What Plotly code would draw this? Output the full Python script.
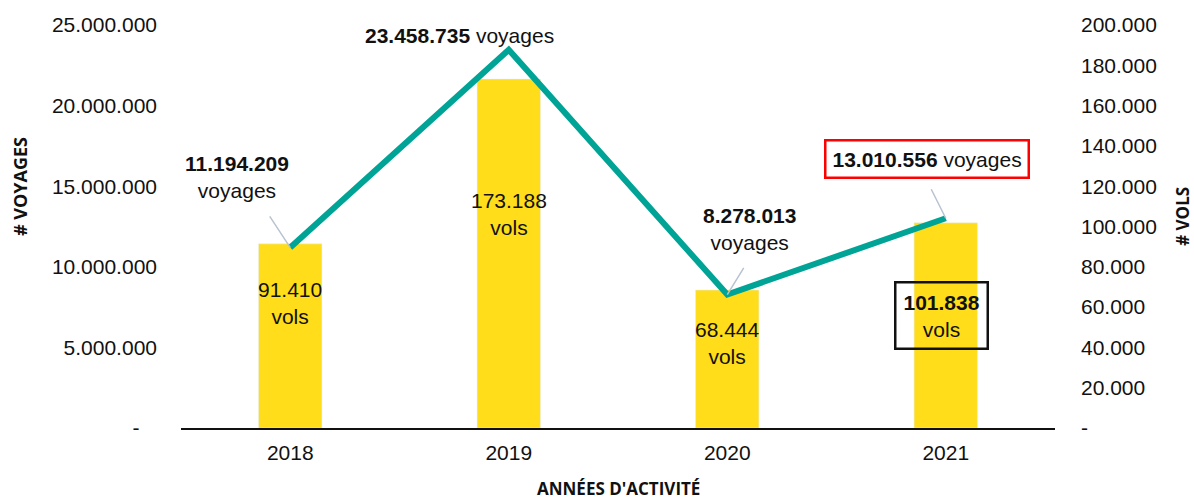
import plotly.graph_objects as go

years = ["2018", "2019", "2020", "2021"]
voyages = [11194209, 23458735, 8278013, 13010556]
vols = [91410, 173188, 68444, 101838]
voyages_labels = ["11.194.209", "23.458.735", "8.278.013", "13.010.556"]
vols_labels = ["91.410", "173.188", "68.444", "101.838"]

left_tickvals = [0, 5000000, 10000000, 15000000, 20000000, 25000000]
left_ticktext = ["-\u00a0\u00a0\u00a0", "5.000.000", "10.000.000", "15.000.000", "20.000.000", "25.000.000"]
right_tickvals = [0, 20000, 40000, 60000, 80000, 100000, 120000, 140000, 160000, 180000, 200000]
right_ticktext = ["-", "20.000", "40.000", "60.000", "80.000", "100.000", "120.000",
                  "140.000", "160.000", "180.000", "200.000"]

FONT = "Liberation Sans"
TITLE_FONT = "Open Sans"
YELLOW = "#FFDD1A"
TEAL = "#00A496"
LEADER = "#B7C3D0"
FS = 21

fig = go.Figure()
# bars on base axis "y" (right side, vols); line on overlaying "y2" (left side, voyages) so it is drawn on top
fig.add_trace(go.Bar(x=years, y=vols, yaxis="y", marker_color=YELLOW, width=0.29,
                     hoverinfo="skip"))
fig.add_trace(go.Scatter(x=years, y=voyages, yaxis="y2", mode="lines",
                         line=dict(color=TEAL, width=6), hoverinfo="skip"))

annotations = []
# bar labels (inside bars); x given as category index
bar_shift = [-59, -135, -53, -93]
for i, (v, lab) in enumerate(zip(vols, vols_labels)):
    if i == 3:
        annotations.append(dict(x=i, y=v, xref="x", yref="y", text=f"<b>{lab}</b><br>vols",
                                showarrow=False, yshift=bar_shift[i], xshift=-4,
                                font=dict(family=FONT, size=FS, color="#111"),
                                bordercolor="#111", borderwidth=2.5, borderpad=7))
    else:
        annotations.append(dict(x=i, y=v, xref="x", yref="y", text=f"{lab}<br>vols",
                                showarrow=False, yshift=bar_shift[i],
                                font=dict(family=FONT, size=FS, color="#111")))

# line labels
line_texts = [f"<b>{voyages_labels[0]}</b><br>voyages",
              f"<b>{voyages_labels[1]}</b> voyages",
              f"<b>{voyages_labels[2]}</b><br>voyages",
              f"<b>{voyages_labels[3]}</b> voyages"]
line_shift = [(-53, 71), (-49, 14), (22, 66), (-19, 59)]
for i, v in enumerate(voyages):
    extra = {}
    if i == 3:
        extra = dict(bordercolor="#FF0000", borderwidth=2.5, borderpad=6, bgcolor="white")
    annotations.append(dict(x=i, y=v, xref="x", yref="y2", text=line_texts[i], showarrow=False,
                            xshift=line_shift[i][0], yshift=line_shift[i][1],
                            font=dict(family=FONT, size=FS, color="#111"), **extra))

# leader lines
leaders = [(-25, -38), None, (21, -34), (-19, -38)]
for i, v in enumerate(voyages):
    if leaders[i] is None:
        continue
    annotations.append(dict(x=i, y=v, xref="x", yref="y2", text=" ", showarrow=True,
                            arrowhead=0, arrowwidth=1.5, arrowcolor=LEADER,
                            ax=leaders[i][0], ay=leaders[i][1], standoff=0, startstandoff=0))

# axis titles
annotations.append(dict(x=0, y=0.598, xref="paper", yref="paper", xshift=-161,
                        xanchor="center", yanchor="middle",
                        text="<b># VOYAGES</b>", textangle=-90, showarrow=False,
                        font=dict(family=TITLE_FONT, size=18, color="#111")))
annotations.append(dict(x=1, y=0.524, xref="paper", yref="paper", xshift=128,
                        xanchor="center", yanchor="middle",
                        text="<b># VOLS</b>", textangle=-90, showarrow=False,
                        font=dict(family=TITLE_FONT, size=17, color="#111")))
annotations.append(dict(x=0.5, y=0, xref="paper", yref="paper", yshift=-60,
                        xanchor="center", yanchor="middle",
                        text="<b>ANNÉES D'ACTIVITÉ</b>", showarrow=False,
                        font=dict(family=TITLE_FONT, size=17, color="#111")))

fig.update_layout(
    width=1194, height=500,
    margin=dict(l=181, r=139, t=25, b=72),
    paper_bgcolor="white", plot_bgcolor="white",
    showlegend=False,
    font=dict(family=FONT, size=FS, color="#111"),
    xaxis=dict(type="category", range=[-0.5, 3.5], showline=True, linecolor="#111",
               linewidth=2, ticks="", showgrid=False, zeroline=False,
               tickfont=dict(family=FONT, size=FS, color="#111"), ticklabelstandoff=5),
    yaxis=dict(range=[0, 200000], tickvals=right_tickvals, ticktext=right_ticktext,
               side="right", showgrid=False, zeroline=False,
               showline=False, ticks="",
               tickfont=dict(family=FONT, size=FS, color="#111"), ticklabelstandoff=25),
    yaxis2=dict(range=[0, 25000000], tickvals=left_tickvals, ticktext=left_ticktext,
                overlaying="y", side="left", showgrid=False, zeroline=False, showline=False,
                ticks="",
                tickfont=dict(family=FONT, size=FS, color="#111"), ticklabelstandoff=23),
    annotations=annotations,
)

fig.write_html("out.html")
